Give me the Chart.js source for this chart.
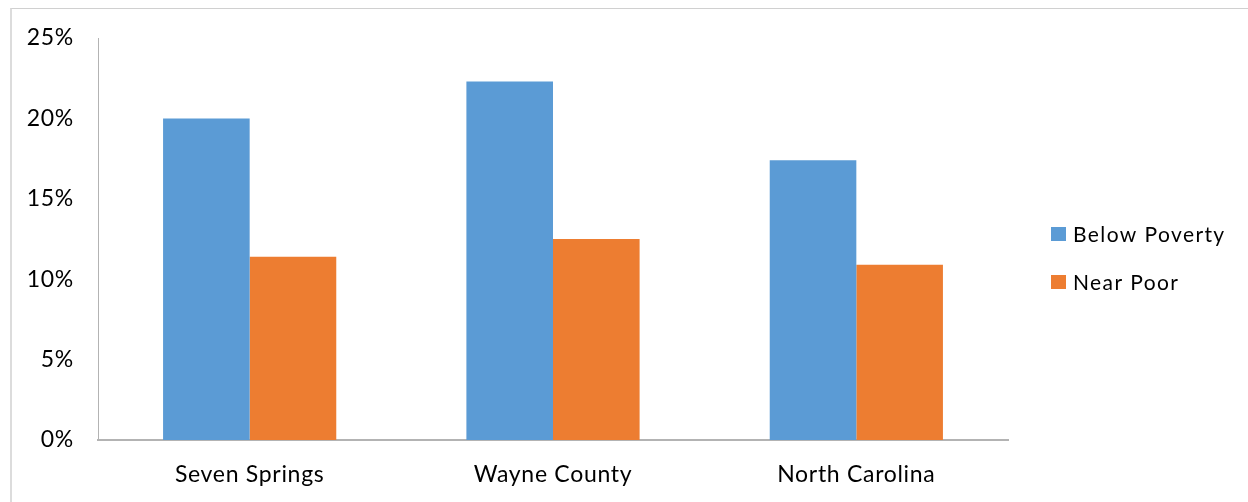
<!DOCTYPE html>
<html>
<head>
<meta charset="utf-8">
<script src="https://cdn.jsdelivr.net/npm/chart.js@4.4.1/dist/chart.umd.min.js"></script>
<style>
  html, body { margin: 0; padding: 0; background: #fff; }
  #wrap { position: relative; width: 1248px; height: 502px; overflow: hidden; }
  #frame {
    position: absolute; left: 10px; top: 8px; width: 1400px; height: 600px;
    border-top: 1px solid #d0d0d0; border-left: 2px solid #dcdcdc;
  }
  #c { position: absolute; left: 0; top: 0; }
</style>
</head>
<body>
<div id="wrap">
  <div id="frame"></div>
  <canvas id="c" width="1248" height="502"></canvas>
</div>
<script>
// Share of population by poverty status
const categories = ['Seven Springs', 'Wayne County', 'North Carolina'];
const belowPoverty = [20.0, 22.3, 17.4];
const nearPoor = [11.4, 12.5, 10.9];
const seriesNames = ['Below Poverty', 'Near Poor'];
const seriesColors = ['#5B9BD5', '#ED7D31'];

const FONT = 'Lato, "Open Sans", sans-serif';

// Slightly open tracking for the axis text
const tracking = {
  id: 'tracking',
  beforeDraw(chart) { chart.ctx.letterSpacing = '0.7px'; }
};

// Legend drawn to the right of the plot, one row per series
const sideLegend = {
  id: 'sideLegend',
  afterDraw(chart) {
    const ctx = chart.ctx;
    ctx.save();
    ctx.font = '21px ' + FONT;
    ctx.letterSpacing = '1.4px';
    ctx.textBaseline = 'middle';
    ctx.textAlign = 'left';
    chart.data.datasets.forEach((ds, i) => {
      const cy = 234 + i * 48;
      ctx.fillStyle = ds.backgroundColor;
      ctx.fillRect(1051, cy - 7, 15, 14);
      ctx.fillStyle = '#000';
      ctx.fillText(ds.label, 1073, cy + 1);
    });
    ctx.restore();
  }
};

new Chart(document.getElementById('c'), {
  type: 'bar',
  data: {
    labels: categories,
    datasets: [
      { label: seriesNames[0], data: belowPoverty, backgroundColor: seriesColors[0] },
      { label: seriesNames[1], data: nearPoor, backgroundColor: seriesColors[1] }
    ]
  },
  options: {
    responsive: false,
    animation: false,
    layout: { padding: { left: 0, right: 240, top: 38, bottom: 0 } },
    datasets: {
      bar: { barPercentage: 1.0, categoryPercentage: 0.571, borderWidth: 0 }
    },
    plugins: { legend: { display: false }, tooltip: { enabled: false } },
    scales: {
      x: {
        grid: { display: false, drawTicks: false },
        border: { display: true, color: '#b3b3b3', width: 2 },
        ticks: { color: '#000', font: { family: FONT, size: 23 }, padding: 21, maxRotation: 0 },
        afterFit(scale) { scale.height = 62; }
      },
      y: {
        min: 0, max: 25,
        grid: { display: false, drawTicks: false },
        border: { display: true, color: '#b3b3b3', width: 1 },
        ticks: {
          stepSize: 5, color: '#000', padding: 24,
          font: { family: FONT, size: 23 },
          callback: v => v + '%'
        },
        afterFit(scale) { scale.width = 98; }
      }
    }
  },
  plugins: [tracking, sideLegend]
});
</script>
</body>
</html>
